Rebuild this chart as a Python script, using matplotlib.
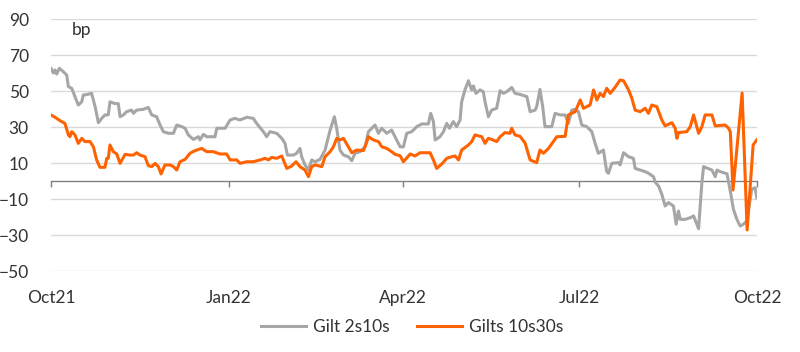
import pandas as pd
import numpy as np
import matplotlib
matplotlib.use('Agg')
import matplotlib.pyplot as plt
import matplotlib.dates as mdates

# values, x as days after 1 Oct 2021
gilt_2s10s_day = [0, 1.2, 2.1, 2.9, 4.3, 6.4, 8.1, 9.0, 10.7, 12.4, 14.1, 15.9, 16.7, 18.4, 21.0, 22.8,
                  24.5, 26.2, 27.9, 29.6, 30.5, 33.1, 34.8, 35.7, 37.4, 39.1, 41.7, 42.6, 44.3, 47.7,
                  50.3, 52.1, 54.6, 56.4, 58.1, 60.7, 63.3, 65.0, 67.6, 69.3, 71.0, 73.6, 76.2, 77.0,
                  78.8, 80.5, 84.8, 85.7, 90.0, 92.6, 95.1, 97.7, 101.2, 104.6, 106.3, 109.8, 111.5,
                  113.2, 116.7, 119.3, 121.0, 122.2, 125.3, 127.0, 128.7, 129.6, 131.3, 133.1, 134.8,
                  136.5, 139.1, 141.7, 144.3, 146.5, 147.7, 149.4, 151.2, 153.7, 155.5, 157.2, 159.8,
                  162.4, 164.1, 167.5, 169.3, 171.0, 173.6, 176.1, 178.7, 180.5, 182.2, 183.9, 186.5,
                  189.1, 191.7, 195.1, 196.3, 197.7, 198.6, 201.1, 202.9, 204.6, 206.0, 208.0, 209.7,
                  211.5, 212.3, 214.0, 215.8, 217.5, 218.4, 219.7, 221.8, 223.5, 224.4, 226.1, 227.8,
                  230.4, 232.2, 233.9, 235.6, 238.2, 239.9, 242.5, 246.0, 247.7, 250.3, 251.1, 252.8,
                  254.2, 255.4, 258.9, 260.6, 263.2, 265.8, 267.5, 269.2, 271.0, 272.7, 274.4, 277.0,
                  279.6, 281.3, 283.0, 285.6, 287.3, 288.2, 289.9, 293.4, 294.2, 296.0, 298.6, 301.1,
                  302.0, 304.6, 307.2, 308.9, 311.5, 312.3, 314.1, 315.8, 317.5, 319.2, 321.8, 323.2,
                  324.4, 325.3, 327.9, 330.5, 332.2, 334.8, 336.5, 337.4, 339.1, 341.7, 343.4, 344.3,
                  346.0, 348.6, 349.5, 351.1, 352.8, 354.6, 356.3, 358.0, 359.7, 362.3, 364.0, 364.9]
gilt_2s10s = [62.6, 60, 61.7, 59.4, 62.6, 60.7, 58.9, 52.4, 51.5, 46.9, 42.2, 44, 47.8, 48, 48.7, 41.3,
              32.4, 34.8, 36.7, 36.7, 44, 43, 43, 35.7, 36.7, 38.5, 39.4, 37.6, 39.4, 39.8,
              40.9, 36.7, 35.7, 31.1, 27.4, 26.5, 26.5, 31.1, 30.2, 29.3, 25.6, 23.1, 24.6, 22.8,
              25.9, 24.6, 24.6, 29.3, 29.3, 33.9, 34.8, 33.9, 35.4, 34.8, 32, 27.4, 24.6,
              27.4, 26.5, 23.7, 20.9, 14.4, 14.4, 15.4, 18.1, 13.5, 8.9, 6.1, 11.7,
              10.7, 12, 17.2, 28.3, 35.7, 29.3, 17.2, 14.4, 13.5, 11.3, 15.4, 16.3,
              19, 27.4, 31.1, 26.5, 29.3, 26.5, 28.3, 22.8, 19, 19, 26.5, 27.4,
              30.2, 31.7, 31.7, 37.6, 33, 22.8, 24.6, 27.4, 32, 29.3, 33, 30.2,
              33.9, 44, 50.6, 55.7, 50.6, 52.8, 48.7, 50.6, 49.6, 44, 35.7, 39.4,
              40.4, 50.2, 48.7, 49.6, 52, 48.7, 48.1, 46.9, 38.5, 39.4, 41.3, 50.9,
              41.3, 30.2, 30.2, 37.6, 36.7, 36.7, 32, 39.4, 39.8, 38.5, 31.1, 30.2,
              27.4, 20.9, 15.4, 17.2, 5.2, 4.3, 9.8, 10.2, 8.9, 15.7, 13.5, 12.6,
              7, 6.1, 5.2, 4.3, 2.4, -0.5, -2.8, -7.4, -13.9, -12, -13.9, -24,
              -16.7, -21.3, -21.3, -20.4, -19.4, -26.5, -0.9, 8, 7.2, 6.1, 2.4, 6.1,
              5.2, 4.3, 4, -5, -15.7, -21.3, -25, -24, -22.2, -4.6, -3.7, -9.3]

gilts_10s30s_day = [0, 2.1, 4.7, 7.2, 9.0, 9.8, 10.7, 12.4, 14.1, 15.9, 17.6, 20.2, 21.9, 23.6, 25.3,
                    27.9, 28.8, 29.6, 30.5, 32.2, 34.0, 35.7, 38.3, 40.8, 42.6, 44.3, 46.0, 48.6,
                    50.3, 52.1, 53.8, 55.5, 56.9, 58.9, 61.5, 63.3, 65.0, 66.7, 69.3, 71.9, 74.5,
                    77.9, 80.5, 83.9, 87.4, 90.8, 92.6, 96.0, 97.7, 101.2, 104.6, 108.1, 110.7,
                    112.4, 114.1, 116.7, 119.3, 121.9, 124.4, 126.7, 128.7, 131.3, 133.1, 134.8,
                    136.5, 140.0, 141.7, 144.3, 146.0, 147.7, 149.4, 151.2, 153.7, 155.5, 158.0,
                    161.5, 163.2, 164.1, 166.7, 169.3, 171.0, 173.6, 176.1, 177.9, 180.5, 182.2,
                    185.7, 188.2, 190.8, 196.0, 197.7, 199.4, 202.0, 204.6, 207.2, 208.9, 210.7,
                    212.3, 215.8, 217.5, 219.2, 222.7, 224.4, 226.1, 227.8, 230.4, 232.2, 234.7,
                    237.3, 238.2, 239.9, 242.5, 245.1, 247.7, 251.1, 252.8, 254.6, 257.2, 259.7,
                    261.5, 265.8, 267.5, 271.0, 273.6, 275.3, 278.7, 280.5, 282.2, 283.9, 285.6,
                    287.3, 289.1, 291.6, 294.2, 296.0, 298.6, 300.3, 302.0, 304.6, 307.2, 308.9,
                    310.6, 313.2, 315.8, 317.5, 321.0, 322.7, 323.6, 324.4, 328.7, 330.5, 332.2,
                    334.8, 336.5, 338.2, 341.7, 343.4, 348.6, 350.3, 351.2, 352.6, 357.3, 359.9,
                    363.0, 365.0]
gilts_10s30s = [36.7, 35.4, 33.5, 32, 25.6, 24.6, 27.4, 25.6, 20.9, 23.7, 21.9, 21.9, 19, 11.7, 7.6,
                7.6, 12.6, 12.6, 20, 16.3, 15, 9.8, 14.8, 14.4, 14.4, 15.7, 14.4, 13.5,
                8.5, 8, 9.8, 8, 3.9, 8.9, 8.9, 8, 6.1, 10.7, 12, 15.4, 16.9,
                18.1, 16.3, 16.3, 15, 15, 11.7, 11.7, 9.8, 10.7, 10.7, 11.7, 12.6,
                11.7, 13.1, 12.6, 13.9, 7, 8.3, 10.7, 8, 6.1, 2.4, 8,
                8.9, 8, 13.5, 16.3, 19, 23.7, 22.8, 23.7, 19, 15.7, 17.2,
                16.9, 21.5, 24.6, 22.8, 21.9, 19, 18.1, 16.3, 14.8, 14, 10.7,
                15, 13.9, 15.7, 15.7, 11.7, 7, 9.4, 12.6, 13.5, 13.9, 11.7,
                17.2, 20, 21.9, 25.6, 24.6, 20.9, 23.7, 23.1, 21.9, 24.6, 26.9,
                26.5, 29.3, 25.6, 24.8, 21.1, 11.7, 10.2, 17.2, 15.4, 18.1, 21.9,
                24.6, 24.8, 36.7, 38.5, 45, 40.4, 42.2, 50.6, 45, 48.7, 46.9,
                51.5, 48.7, 52, 56.1, 55.7, 50.6, 45.9, 39.4, 38.5, 40.4, 37.6,
                42.2, 41.3, 33.9, 30.6, 32.4, 29.3, 23.7, 26.9, 27.4, 30.2, 36.7,
                26.5, 30.2, 36.7, 36.7, 30.6, 31.1, 29.3, 27.4, -5, 48.9, -27.2,
                20, 23]

y_ticks = [-50, -30, -10, 10, 30, 50, 70, 90]
x_tick_labels = ['Oct21', 'Jan22', 'Apr22', 'Jul22', 'Oct22']
x_tick_dates = ['2021-10-01', '2022-01-01', '2022-04-01', '2022-07-01', '2022-10-01']

start = pd.Timestamp('2021-10-01')
x_gray = start + pd.to_timedelta(gilt_2s10s_day, unit='D')
x_orange = start + pd.to_timedelta(gilts_10s30s_day, unit='D')

plt.rcParams['font.family'] = ['Lato', 'DejaVu Sans']
text_col = '#333333'

fig = plt.figure(figsize=(8, 3.52), dpi=100)
ax = fig.add_axes([51/800, 1-271/352, 706/800, 252/352])

ax.plot(x_gray, gilt_2s10s, color='#a6a6a6', lw=2.2, label='Gilt 2s10s', zorder=3)
ax.plot(x_orange, gilts_10s30s, color='#ff6200', lw=2.2, label='Gilts 10s30s', zorder=4)

ax.set_ylim(-50, 90)
ax.set_xlim(pd.Timestamp(x_tick_dates[0]), pd.Timestamp(x_tick_dates[-1]))
ax.set_yticks(y_ticks)
ax.grid(axis='y', color='#d9d9d9', lw=1)
ax.set_axisbelow(True)
for s in ax.spines.values():
    s.set_visible(False)
ax.tick_params(axis='y', length=0, pad=16, labelsize=12.5, labelcolor=text_col)

tick_dates = [pd.Timestamp(d) for d in x_tick_dates]
ax.set_xticks(tick_dates)
ax.set_xticklabels(x_tick_labels)
ax.tick_params(axis='x', length=0, pad=14, labelsize=12.5, labelcolor=text_col)

# zero line with small ticks
zero = ax.secondary_xaxis(50/140)
zero.set_xticks(tick_dates)
zero.set_xticklabels([])
zero.tick_params(axis='x', direction='out', length=4, color='#808080', width=1)
zero.spines['bottom'].set_color('#808080')
zero.spines['bottom'].set_linewidth(1)

ax.text(0.03, 0.955, 'bp', transform=ax.transAxes, fontsize=12.5, color=text_col, va='center')

fig.legend(loc='center', bbox_to_anchor=(0.515, 1-327/352), ncol=2, frameon=False,
           fontsize=12.5, handlelength=2.6, columnspacing=1.6, handletextpad=0.4,
           labelcolor=text_col)

plt.savefig('out.png', dpi=100)
